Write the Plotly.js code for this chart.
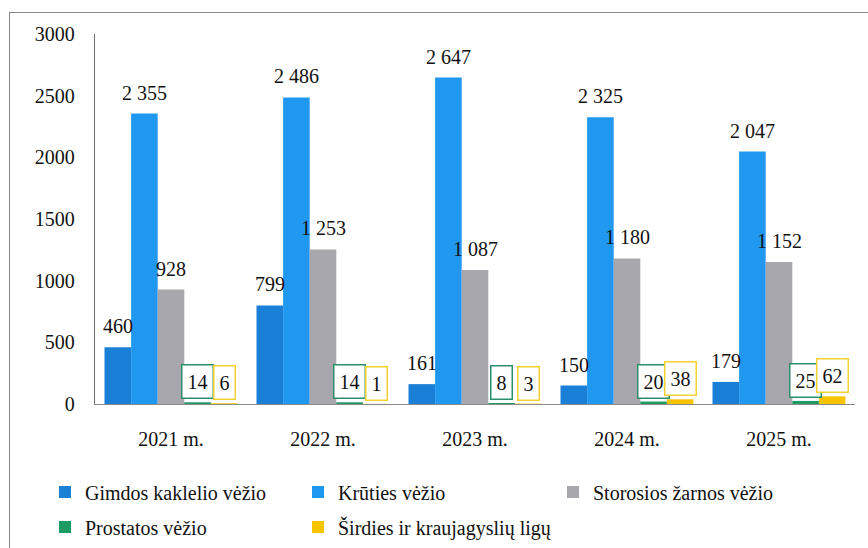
<!DOCTYPE html>
<html>
<head>
<meta charset="utf-8">
<script src="https://cdn.plot.ly/plotly-3.0.1.min.js"></script>
<style>
html,body{margin:0;padding:0;background:#fff;}
#frame{position:absolute;left:9px;top:12px;width:870px;height:560px;border-left:1.5px solid #8a8a8a;border-top:1.5px solid #8a8a8a;pointer-events:none;}
#chart{width:868px;height:548px;}
</style>
</head>
<body>
<div id="chart"></div>
<div id="frame"></div>
<script>
const categories = ["2021 m.", "2022 m.", "2023 m.", "2024 m.", "2025 m."];
const seriesNames = ["Gimdos kaklelio vėžio", "Krūties vėžio", "Storosios žarnos vėžio", "Prostatos vėžio", "Širdies ir kraujagyslių ligų"];
const gimdos = [460, 799, 161, 150, 179];
const kruties = [2355, 2486, 2647, 2325, 2047];
const storosios = [928, 1253, 1087, 1180, 1152];
const prostatos = [14, 14, 8, 20, 25];
const sirdies = [6, 1, 3, 38, 62];
const yTicks = [0, 500, 1000, 1500, 2000, 2500, 3000];

const allSeries = [gimdos, kruties, storosios, prostatos, sirdies];
const colors = ["#1a7fd6", "#2198f0", "#a8a7ae", "#1e9a64", "#f7c400"];
const boxColors = [null, null, null, "#2a8f6a", "#f2d230"];

const W = 868, H = 548;
const M = {l: 95, r: 13, t: 34, b: 144, autoexpand: false};
const plotW = W - M.l - M.r, plotH = H - M.t - M.b;
const bargap = 0.125;
const barPx = plotW / categories.length * (1 - bargap) / allSeries.length;

function fmt(v) {
  const s = String(v);
  return s.length > 3 ? s.slice(0, s.length - 3) + " " + s.slice(-3) : s;
}

const font = "'Liberation Serif', 'Times New Roman', 'DejaVu Serif', serif";
const legendNames = ["legend", "legend2", "legend3", "legend4", "legend5"];

const traces = allSeries.map((vals, i) => ({
  type: "bar",
  name: seriesNames[i],
  x: categories,
  y: vals,
  marker: {color: colors[i]},
  legend: legendNames[i],
  hoverinfo: "x+y+name"
}));

const annotations = [];
allSeries.forEach((vals, i) => {
  vals.forEach((v, j) => {
    const boxed = boxColors[i] !== null;
    annotations.push({
      x: categories[j], y: v, xref: "x", yref: "y",
      xshift: (i - 2) * barPx,
      yshift: boxed ? 3 : 10,
      yanchor: "bottom", xanchor: "center",
      text: fmt(v), showarrow: false,
      font: {family: font, size: 20, color: "#111"},
      bgcolor: boxed ? "#fff" : "rgba(0,0,0,0)",
      bordercolor: boxed ? boxColors[i] : "rgba(0,0,0,0)",
      borderwidth: boxed ? 1.5 : 0,
      borderpad: boxed ? 5 : 0
    });
  });
});

function lx(px) { return (px - M.l) / plotW; }
function ly(px) { return (M.t + plotH - px) / plotH; }
const legendPos = [[45, 492], [298, 492], [553, 492], [45, 527], [298, 527]];
const layout = {
  width: W, height: H,
  margin: M,
  paper_bgcolor: "#fff", plot_bgcolor: "#fff",
  barmode: "group", bargap: bargap, bargroupgap: 0,
  font: {family: font, size: 20, color: "#111"},
  xaxis: {
    type: "category", showgrid: false, zeroline: false,
    showline: true, linecolor: "#8a8a8a", linewidth: 1.2,
    ticks: "", ticklabelstandoff: 17, automargin: false,
    tickfont: {family: font, size: 20, color: "#111"}
  },
  yaxis: {
    range: [0, 3000], tickvals: yTicks, ticktext: yTicks.map(String),
    showgrid: false, zeroline: false, automargin: false,
    showline: true, linecolor: "#6a6a6a", linewidth: 1.2,
    ticks: "", ticklabelstandoff: 15,
    tickfont: {family: font, size: 20, color: "#111"}
  },
  annotations: annotations,
  showlegend: true
};
legendNames.forEach((ln, i) => {
  layout[ln] = {
    x: lx(legendPos[i][0]), y: ly(legendPos[i][1]),
    xanchor: "left", yanchor: "middle",
    orientation: "v", bgcolor: "rgba(0,0,0,0)",
    font: {family: font, size: 20, color: "#111"}
  };
});

Plotly.newPlot("chart", traces, layout, {displayModeBar: false, staticPlot: true});
</script>
</body>
</html>
